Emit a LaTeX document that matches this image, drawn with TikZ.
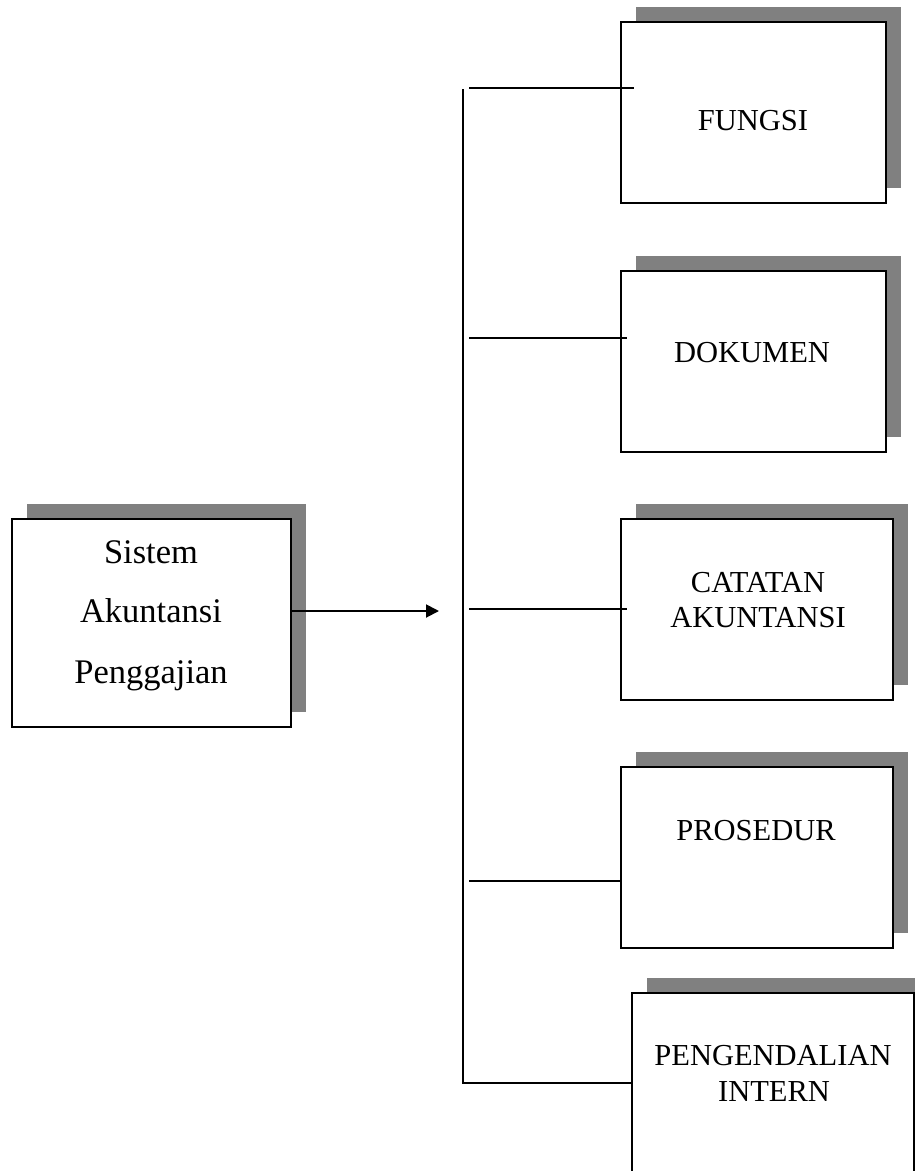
\documentclass[tikz,border=0pt]{standalone}
\usepackage{fontspec}
\setmainfont{Liberation Serif}
\usetikzlibrary{arrows.meta,shadows}
\definecolor{shadowgray}{HTML}{808080}
\begin{document}
\begin{tikzpicture}[x=1pt,y=-1pt,
  card/.style={draw, line width=1.9pt, fill=white, rectangle, inner sep=0pt,
    general shadow={fill=shadowgray, shadow xshift=15pt, shadow yshift=15pt}},
  wire/.style={line width=1.9pt},
  maintext/.style={font=\fontsize{34.5}{40}\selectfont, anchor=base, inner sep=0pt},
  cardtext/.style={font=\fontsize{30.5}{36}\selectfont, anchor=base, inner sep=0pt}]
\useasboundingbox (0,0) rectangle (915,1171);
\clip (0,0) rectangle (915,1171);

% source box
\node[card, minimum width=279pt, minimum height=208pt] (sistem) at (151.5,623) {};
\node[maintext] (s1) at (151,563) {Sistem};
\node[maintext] (s2) at (151,622) {Akuntansi};
\node[maintext] (s3) at (151,683) {Penggajian};

% component boxes
\node[card, minimum width=265pt, minimum height=181pt] (fungsi) at (753.5,112.5) {};
\node[cardtext] (tfungsi) at (753,130) {FUNGSI};

\node[card, minimum width=265pt, minimum height=181pt] (dokumen) at (753.5,361.5) {};
\node[cardtext] (tdokumen) at (752,362) {DOKUMEN};

\node[card, minimum width=272pt, minimum height=181pt] (catatan) at (757,609.5) {};
\node[cardtext] (tcatatan1) at (758,592) {CATATAN};
\node[cardtext] (tcatatan2) at (758,627) {AKUNTANSI};

\node[card, minimum width=272pt, minimum height=181pt] (prosedur) at (757,857.5) {};
\node[cardtext] (tprosedur) at (756,840) {PROSEDUR};

\node[card, minimum width=282pt, minimum height=181pt] (pengendalian) at (773,1083.5) {};
\node[cardtext] (tpeng1) at (773,1065) {PENGENDALIAN};
\node[cardtext] (tpeng2) at (774,1101) {INTERN};

% arrow into the branch trunk
\coordinate (tip) at (439,611);
\draw[wire, -{Triangle[length=13pt,width=13pt]}] (sistem.east |- tip) -- (tip);

% trunk and branches
\coordinate (trunktop) at (463,89);
\coordinate (trunkbot) at (463,1083);
\draw[wire] (trunktop) -- (trunkbot) -- (pengendalian.west |- trunkbot);

\coordinate (b1) at (469,88);   \coordinate (e1) at (634,88);
\coordinate (b2) at (469,338);  \coordinate (e2) at (627,338);
\coordinate (b3) at (469,609);  \coordinate (e3) at (627,609);
\coordinate (b4) at (469,881);
\draw[wire] (b1) -- (e1);
\draw[wire] (b2) -- (e2);
\draw[wire] (b3) -- (e3);
\draw[wire] (b4) -- (prosedur.west |- b4);
\end{tikzpicture}
\end{document}
